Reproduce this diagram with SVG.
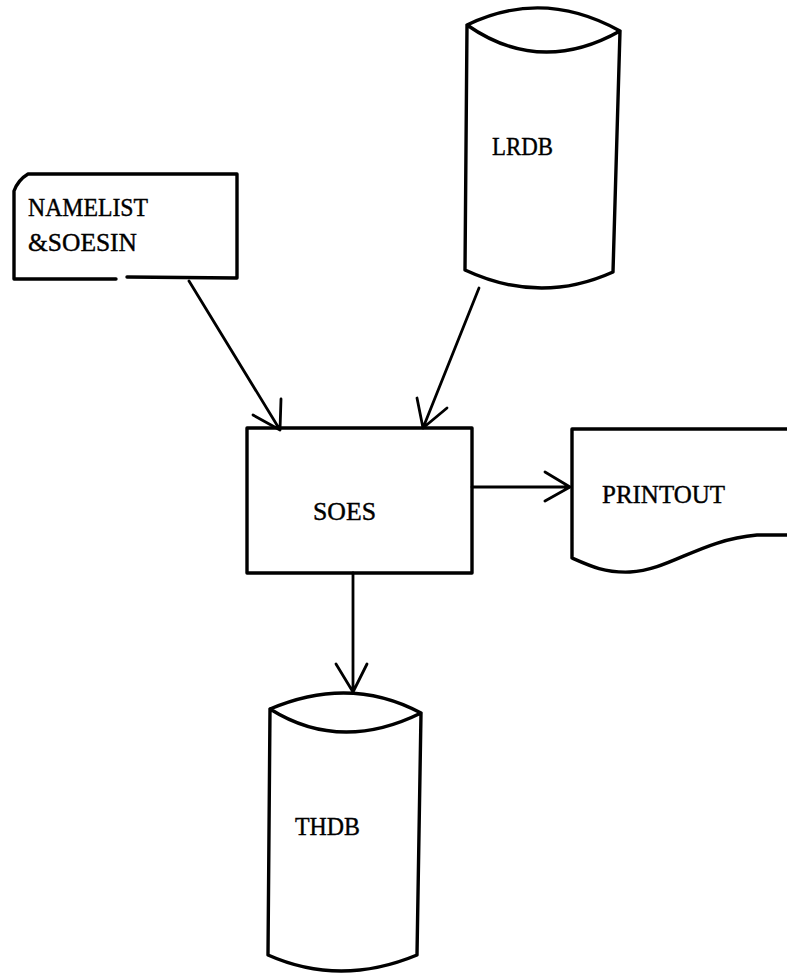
<svg xmlns="http://www.w3.org/2000/svg" width="787" height="973" viewBox="0 0 787 973">
<style>
.shape{fill:none;stroke:#000;stroke-width:3.4;stroke-linejoin:round;stroke-linecap:round}
.conn{fill:none;stroke:#000;stroke-width:2.8;stroke-linecap:round;stroke-linejoin:round}
.lbl{font-family:"Liberation Serif","DejaVu Serif",serif;font-size:25px;fill:#000;stroke:#000;stroke-width:0.4}
</style>
<rect width="787" height="973" fill="#fff"/>
<g id="namelist">
<path class="shape" d="M116,279 L14,279 L14,191 Q18,180 28,174 L237,174 L237,278 L127,277"/>
<text class="lbl" x="28" y="216" textLength="120" lengthAdjust="spacingAndGlyphs">NAMELIST</text>
<text class="lbl" x="28" y="251" textLength="109" lengthAdjust="spacingAndGlyphs">&amp;SOESIN</text>
</g>
<g id="lrdb">
<path class="shape" d="M467,25 Q543,-12 620,31 M467,25 Q540,76 620,31 M467,25 L465,270 Q540,305 613,272 L620,31"/>
<text class="lbl" x="492" y="155" textLength="61" lengthAdjust="spacingAndGlyphs">LRDB</text>
</g>
<g id="soes">
<rect class="shape" x="247" y="428" width="225" height="145"/>
<text class="lbl" x="313" y="520" textLength="63" lengthAdjust="spacingAndGlyphs">SOES</text>
</g>
<g id="printout">
<path class="shape" d="M790,429 L572,429 L572,558 C590,566 605,573 630,572 C670,570 700,540 757,535 L790,535"/>
<text class="lbl" x="602" y="503" textLength="123" lengthAdjust="spacingAndGlyphs">PRINTOUT</text>
</g>
<g id="thdb">
<path class="shape" d="M270,709 Q350,675 421,713 M270,709 Q340,753 421,713 M270,709 L268,955 Q340,987 417,955 L421,713"/>
<text class="lbl" x="295" y="835" textLength="65" lengthAdjust="spacingAndGlyphs">THDB</text>
</g>
<g id="connectors">
<path class="conn" d="M189,281 L280,430 M281,399 L280,430 L253,415"/>
<path class="conn" d="M479,288 L423,428 M417,398 L423,428 L447,408"/>
<path class="conn" d="M472,487 L570,487 M545,472 L570,487 L545,501"/>
<path class="conn" d="M353,573 L353,692 M336,664 L353,692 L367,664"/>
</g>
</svg>
